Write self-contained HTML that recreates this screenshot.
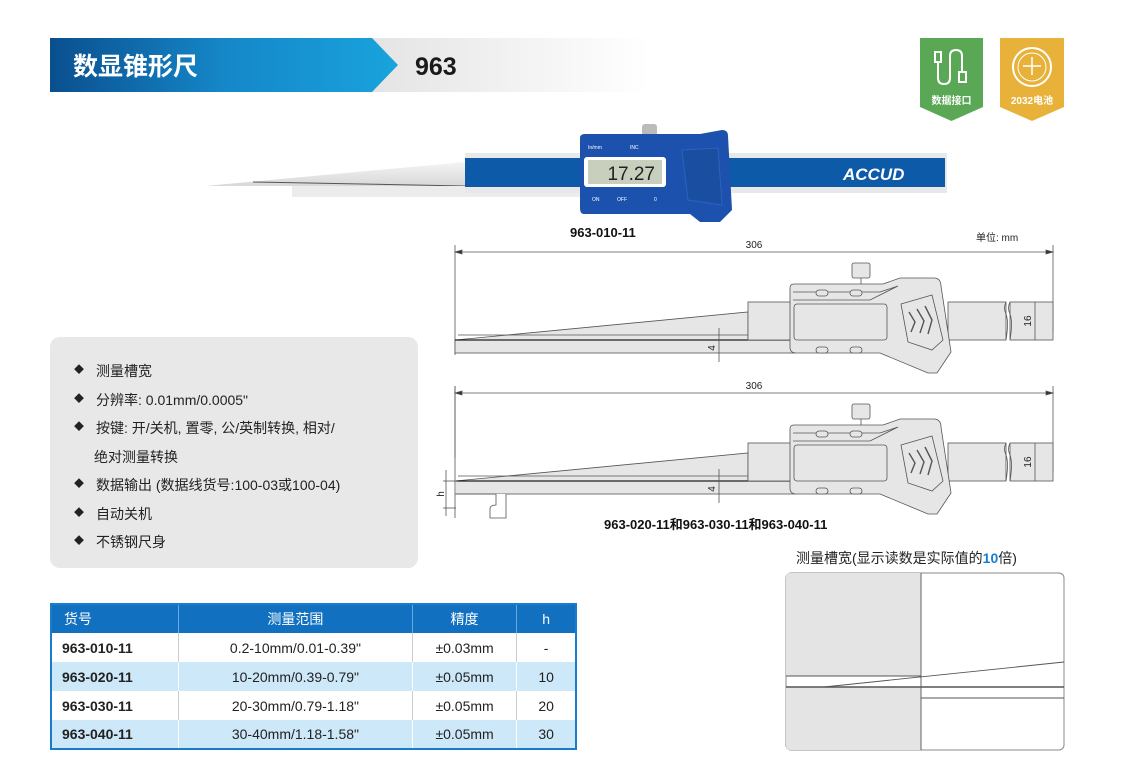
<!DOCTYPE html>
<html><head><meta charset="utf-8"><style>
body{margin:0;width:1130px;height:766px;background:#fff;overflow:hidden;font-family:"Liberation Sans","Noto Sans CJK SC",sans-serif;position:relative}
.abs{position:absolute}
ul{list-style:none;margin:0;padding:0}
li{height:28.5px;line-height:28.5px;white-space:nowrap}
li b{font-weight:normal;font-size:10px;line-height:0;display:inline-block;width:22px;vertical-align:top}
table{border-collapse:collapse;table-layout:fixed}
td{padding:0}
</style></head><body>
<svg class="abs" style="left:0;top:0" width="1130" height="766" xmlns="http://www.w3.org/2000/svg">
<defs>
<linearGradient id="hb" x1="0" x2="1"><stop offset="0" stop-color="#0a4f8e"/><stop offset="0.5" stop-color="#1587c8"/><stop offset="1" stop-color="#19a3dc"/></linearGradient>
<linearGradient id="hg" x1="0" x2="1"><stop offset="0" stop-color="#e4e4e4"/><stop offset="1" stop-color="#fff"/></linearGradient>
<linearGradient id="sil" x1="0" y1="0" x2="0" y2="1"><stop offset="0" stop-color="#f4f4f4"/><stop offset="1" stop-color="#d8d8d8"/></linearGradient>
</defs>
<rect x="370" y="38" width="280" height="54" fill="url(#hg)"/>
<polygon points="50,38 372,38 398,65 372,92 50,92" fill="url(#hb)"/>
<text x="73" y="75" font-size="25" font-weight="bold" fill="#fff" font-family="Liberation Sans,Noto Sans CJK SC,sans-serif">数显锥形尺</text>
<text x="415" y="75" font-size="25" font-weight="bold" fill="#1a1a1a" font-family="Liberation Sans,sans-serif">963</text>
<polygon points="920,38 983,38 983,107 951.5,121 920,107" fill="#5aa856"/>
<g stroke="#fff" stroke-width="2" fill="none"><rect x="935" y="52" width="6" height="10"/><path d="M938,62 V78 Q938,84 944,84 Q950,84 950,78 V56 Q950,50 956,50 Q962,50 962,56 V72"/><rect x="959" y="72" width="7" height="10"/></g>
<text x="951.5" y="104" font-size="10" fill="#fff" text-anchor="middle" font-weight="bold">数据接口</text>
<polygon points="1000,38 1064,38 1064,107 1032,121 1000,107" fill="#e8b23a"/>
<circle cx="1032" cy="67" r="19" fill="none" stroke="#fff" stroke-width="2"/>
<circle cx="1032" cy="67" r="14" fill="none" stroke="#fff" stroke-width="1"/>
<path d="M1032,57 V75 M1023,66 H1041" stroke="#fff" stroke-width="1.5"/>
<text x="1032" y="104" font-size="10" fill="#fff" text-anchor="middle" font-weight="bold">2032电池</text>
<polygon points="205,186 465,162 465,186" fill="url(#sil)"/>
<line x1="253" y1="182" x2="465" y2="186" stroke="#555" stroke-width="1"/>
<rect x="292" y="186" width="290" height="11" fill="#ececec"/>
<rect x="465" y="153" width="482" height="40" fill="#e8e8e8"/>
<rect x="465" y="158" width="480" height="29" fill="#0d5aa8"/>
<text x="843" y="180" font-size="17" font-weight="bold" font-style="italic" fill="#fff">ACCUD</text>
<rect x="642" y="124" width="15" height="12" rx="3" fill="#bbb"/>
<path d="M580,138 Q580,134 585,134 L700,134 L722,130 Q728,130 728,136 L732,210 L720,222 L700,222 L690,214 L584,214 Q580,214 580,208 Z" fill="#1c52ad"/>
<rect x="584" y="157" width="82" height="30" rx="3" fill="#fff"/>
<rect x="588" y="160" width="74" height="24" fill="#c8d0bd"/>
<text x="655" y="180" font-size="19" fill="#222" text-anchor="end" font-family="Liberation Sans Narrow,Liberation Sans,sans-serif">17.27</text>
<path d="M682,150 L718,148 L722,205 L688,200 Z" fill="#1a4ea0" stroke="#2c62c0"/>
<text x="588" y="149" font-size="5" fill="#fff">In/mm</text><text x="630" y="149" font-size="5" fill="#fff">INC</text>
<text x="592" y="201" font-size="5" fill="#fff">ON</text><text x="617" y="201" font-size="5" fill="#fff">OFF</text><text x="654" y="201" font-size="5" fill="#fff">0</text>
<text x="570" y="237" font-size="13" font-weight="bold" fill="#111">963-010-11</text>
<text x="976" y="241" font-size="10" fill="#222">单位: mm</text>
<g id="d1" stroke="#555" stroke-width="0.8" fill="#e6e6e6">
<line x1="455" y1="245" x2="455" y2="355"/><line x1="1053" y1="245" x2="1053" y2="332"/>
<line x1="458" y1="252" x2="1050" y2="252"/>
<polygon points="455,252 462,250 462,254" fill="#333"/><polygon points="1053,252 1046,250 1046,254" fill="#333"/>
<polygon points="455,340 748,312 748,340"/>
<line x1="458" y1="335" x2="748" y2="335"/>
<rect x="455" y="340" width="340" height="13"/>
<line x1="455" y1="340" x2="795" y2="340" stroke="#222" stroke-width="1.2"/>
<rect x="748" y="302" width="47" height="38"/>
<rect x="948" y="302" width="58" height="38"/>
<rect x="1010" y="302" width="43" height="38"/>
<path d="M1006,302 q-3,6 0,12 q3,8 0,26" fill="none"/><path d="M1010,302 q-3,6 0,12 q3,8 0,26" fill="none"/>
<rect x="852" y="263" width="18" height="15" rx="2"/>
<line x1="861" y1="278" x2="861" y2="285"/>
<path d="M790,288 Q790,284 794,284 L883,284 L900,278 L935,278 Q941,279 941,286 L951,352 L937,373 L928,373 L880,353 L796,353 Q790,353 790,347 Z"/>
<path d="M793,292 L880,292 L898,286 M793,300 L870,300 L898,286" fill="none"/>
<rect x="794" y="304" width="93" height="36" rx="3"/>
<path d="M901,304 L932,295 L943,340 L932,350 L908,342 Z"/>
<g fill="none" stroke="#555" stroke-width="1.4"><path d="M909,312 l6,10 l-4,10"/><path d="M917,309 l7,12 l-4,12"/><path d="M925,306 l7,14 l-4,14"/></g>
<rect x="816" y="290" width="12" height="6" rx="3"/><rect x="850" y="290" width="12" height="6" rx="3"/>
<rect x="816" y="347" width="12" height="6" rx="3"/><rect x="850" y="347" width="12" height="6" rx="3"/>
<line x1="719" y1="328" x2="719" y2="362"/><line x1="1035" y1="302" x2="1035" y2="340"/>
</g>
<use href="#d1" y="141"/>
<rect x="440" y="478" width="16" height="50" fill="#fff"/>
<rect x="452" y="458" width="4" height="40" fill="#fff"/>
<g stroke="#555" stroke-width="0.8" fill="#e6e6e6">
<line x1="455" y1="386" x2="455" y2="482"/>
<path d="M455,481 L455,518 M455,494 L496,494 L496,505 Q490,505 490,509 L490,518 L506,518 L506,494" fill="#fff"/>
<line x1="443" y1="481" x2="458" y2="481"/><line x1="443" y1="508" x2="456" y2="508"/>
<line x1="446" y1="470" x2="446" y2="516"/>
</g>
<g font-size="10" fill="#222">
<text x="754" y="248" text-anchor="middle">306</text><text x="754" y="389" text-anchor="middle">306</text>
<text x="715" y="348" transform="rotate(-90 715 348)" text-anchor="middle">4</text>
<text x="715" y="489" transform="rotate(-90 715 489)" text-anchor="middle">4</text>
<text x="1031" y="321" transform="rotate(-90 1031 321)" text-anchor="middle">16</text>
<text x="1031" y="462" transform="rotate(-90 1031 462)" text-anchor="middle">16</text>
<text x="444" y="494" transform="rotate(-90 444 494)" text-anchor="middle">h</text>
</g>
<text x="604" y="529" font-size="13" font-weight="bold" fill="#111">963-020-11和963-030-11和963-040-11</text>
<text x="796" y="563" font-size="14" fill="#222">测量槽宽(显示读数是实际值的<tspan fill="#1a7fd0" font-weight="bold">10</tspan>倍)</text>
<rect x="786" y="573" width="278" height="177" rx="5" fill="#fff" stroke="#888"/>
<path d="M790,573 L921,573 L921,676 L786,676 L786,578 Q786,573 790,573Z" fill="#e4e4e4"/>
<path d="M786,687 L921,687 L921,750 L790,750 Q786,750 786,745Z" fill="#e4e4e4"/>
<g stroke="#555" stroke-width="0.9" fill="none">
<line x1="921" y1="573" x2="921" y2="750"/>
<line x1="786" y1="676" x2="921" y2="676"/>
<line x1="786" y1="687" x2="1064" y2="687" stroke-width="1.4"/>
<line x1="921" y1="698" x2="1064" y2="698"/>
<line x1="824" y1="687" x2="1064" y2="662"/>
</g>
</svg>
<div class="abs" style="left:50px;top:337px;width:368px;height:231px;background:#e8e8e8;border-radius:10px"></div>
<ul class="abs" style="left:74px;top:357px;font-size:14px;color:#222">
<li><b style="line-height:28.5px">◆</b>测量槽宽</li>
<li><b style="line-height:28.5px">◆</b>分辨率: 0.01mm/0.0005"</li>
<li><b style="line-height:28.5px">◆</b>按键: 开/关机, 置零, 公/英制转换, 相对/</li>
<li style="padding-left:20px">绝对测量转换</li>
<li><b style="line-height:28.5px">◆</b>数据输出 (数据线货号:100-03或100-04)</li>
<li><b style="line-height:28.5px">◆</b>自动关机</li>
<li><b style="line-height:28.5px">◆</b>不锈钢尺身</li>
</ul>
<table class="abs" style="left:50px;top:603px;width:527px;font-size:14px;color:#222;border:2px solid #1a7ccc">
<colgroup><col style="width:127px"><col style="width:233px"><col style="width:104px"><col style="width:59px"></colgroup>
<tr style="background:#1170c0;color:#fff;height:29px"><td style="padding-left:12px;border-right:1px solid #6aa8dd">货号</td><td style="text-align:center;border-right:1px solid #6aa8dd">测量范围</td><td style="text-align:center;border-right:1px solid #6aa8dd">精度</td><td style="text-align:center">h</td></tr>
<tr style="height:29px;background:#fff"><td style="padding-left:10px;font-weight:bold;border-right:1px solid #ccc">963-010-11</td><td style="text-align:center;border-right:1px solid #ccc">0.2-10mm/0.01-0.39"</td><td style="text-align:center;border-right:1px solid #ccc">±0.03mm</td><td style="text-align:center">-</td></tr>
<tr style="height:29px;background:#cde8f8"><td style="padding-left:10px;font-weight:bold;border-right:1px solid #fff">963-020-11</td><td style="text-align:center;border-right:1px solid #fff">10-20mm/0.39-0.79"</td><td style="text-align:center;border-right:1px solid #fff">±0.05mm</td><td style="text-align:center">10</td></tr>
<tr style="height:29px;background:#fff"><td style="padding-left:10px;font-weight:bold;border-right:1px solid #ccc">963-030-11</td><td style="text-align:center;border-right:1px solid #ccc">20-30mm/0.79-1.18"</td><td style="text-align:center;border-right:1px solid #ccc">±0.05mm</td><td style="text-align:center">20</td></tr>
<tr style="height:29px;background:#cde8f8"><td style="padding-left:10px;font-weight:bold;border-right:1px solid #fff">963-040-11</td><td style="text-align:center;border-right:1px solid #fff">30-40mm/1.18-1.58"</td><td style="text-align:center;border-right:1px solid #fff">±0.05mm</td><td style="text-align:center">30</td></tr>
</table>
</body></html>
